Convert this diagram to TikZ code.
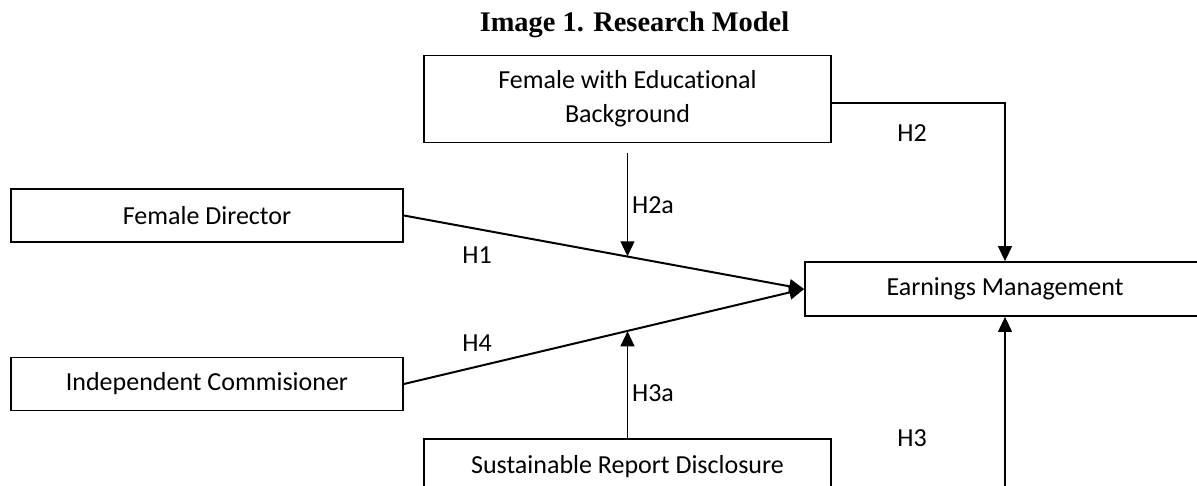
\documentclass[tikz,border=0pt]{standalone}
\usepackage{fontspec}
\setmainfont[Ligatures=NoCommon]{Carlito}
\newfontfamily\timesfont{Liberation Serif}
\usetikzlibrary{arrows.meta, calc}
\tikzset{
  var/.style={draw, line width=0.9pt, minimum width=196pt, minimum height=26.5pt, inner sep=2pt, font=\fontsize{13}{17}\selectfont, align=center},
  mod/.style={var, minimum width=203.5pt, minimum height=43.5pt},
  thin/.style={-{Triangle[length=7.5pt,width=7pt]}, line width=0.55pt},
  main/.style={-{Triangle[length=7.5pt,width=7pt]}, line width=1pt},
  hyp/.style={font=\fontsize{13}{15}\selectfont, inner sep=0pt}
}

\begin{document}
\begin{tikzpicture}[x=0.5pt, y=-0.5pt]
  \useasboundingbox (0,0) rectangle (1197,486);
  \clip (0,0) rectangle (1197,486);
  \node[font=\timesfont\bfseries\fontsize{14.2}{17}\selectfont, anchor=base] (title) at (634.5,32) {Image 1. Research Model};
  % boxes
  \node[mod] (edu) at (627.5,99) {Female with Educational\\Background};
  \node[var] (dir) at (207,215.5) {Female Director};
  \node[var] (ind) at (207,384) {Independent Commisioner};
  \node[var, minimum width=200pt, minimum height=27pt] (earn) at (1005,289) {Earnings Management};
  \node[mod, minimum height=28pt] (sus) at (627.5,467) {Sustainable Report Disclosure};
  % points on the main paths
  \coordinate (m1) at ($(dir.east)!0.555!(earn.west)$);
  \coordinate (m4) at ($(ind.east)!0.555!(earn.west)$);
  \coordinate (h2a) at ($(edu.south)+(0,10)$);
  % paths
  \draw[main] (dir.east) -- (earn.west);
  \draw[main] (ind.east) -- (earn.west);
  \draw[thin] (h2a) -- (h2a |- m1);
  \draw[thin] (sus.north) -- (sus.north |- m4);
  \draw[thin] ([yshift=-2pt]edu.east) -| (earn.north);
  \draw[thin] (earn.south |- sus.south) -- (earn.south);
  % labels
  \node[hyp] (lh1) at (477,255) {H1};
  \node[hyp] (lh2) at (912,133) {H2};
  \node[hyp] (lh2a) at (653,205) {H2a};
  \node[hyp] (lh3) at (912,438) {H3};
  \node[hyp] (lh3a) at (653,393) {H3a};
  \node[hyp] (lh4) at (477,343) {H4};
\end{tikzpicture}
\end{document}
